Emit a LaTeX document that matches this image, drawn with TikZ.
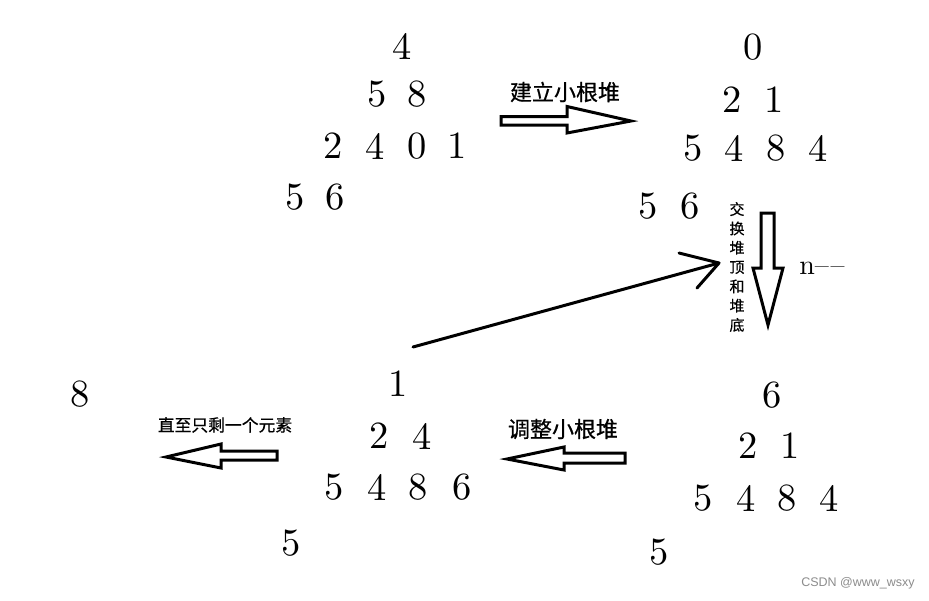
\documentclass[tikz,border=0pt]{standalone}
\usepackage{fontspec}
\newfontfamily\cjk{Noto Sans CJK SC}[FakeBold=0.6]
\newfontfamily\wmfont{Liberation Sans}
\begin{document}
\begin{tikzpicture}[x=1pt,y=-1pt,
  num/.style={inner sep=0pt,font=\fontsize{10}{10}\selectfont,scale=3.85},
  lbl/.style={inner sep=0pt,font=\cjk\fontsize{22}{22}\selectfont},
  hollow/.style={draw=black,line width=3pt,fill=white,line join=miter},
  thinarrow/.style={draw=black,line width=3pt,line cap=round,line join=round}]
\useasboundingbox[fill=white] (0,0) rectangle (929,600);
% tree 1
\node[num] (a1) at (402,46) {4};
\node[num] (a2) at (377,94) {5};
\node[num] (a3) at (417,94) {8};
\node[num] (a4) at (333,146) {2};
\node[num] (a5) at (375,146) {4};
\node[num] (a6) at (417,146) {0};
\node[num] (a7) at (457,146) {1};
\node[num] (a8) at (295,197) {5};
\node[num] (a9) at (335,197) {6};
% tree 2
\node[num] (b1) at (753,47) {0};
\node[num] (b2) at (732,100) {2};
\node[num] (b3) at (774,100) {1};
\node[num] (b4) at (693,148) {5};
\node[num] (b5) at (734,148) {4};
\node[num] (b6) at (776,148) {8};
\node[num] (b7) at (818,148) {4};
\node[num] (b8) at (648,206) {5};
\node[num] (b9) at (690,206) {6};
% tree 3
\node[num] (c1) at (398,384) {1};
\node[num] (c2) at (379,436) {2};
\node[num] (c3) at (422,436) {4};
\node[num] (c4) at (334,487) {5};
\node[num] (c5) at (377,487) {4};
\node[num] (c6) at (418,487) {8};
\node[num] (c7) at (462,487) {6};
\node[num] (c8) at (291,543) {5};
% tree 4
\node[num] (d1) at (772,395) {6};
\node[num] (d2) at (748,446) {2};
\node[num] (d3) at (790,446) {1};
\node[num] (d4) at (703,498) {5};
\node[num] (d5) at (746,498) {4};
\node[num] (d6) at (787,498) {8};
\node[num] (d7) at (829,498) {4};
\node[num] (d8) at (659,552) {5};
% result
\node[num] (e1) at (80,394) {8};
% labels
\node[lbl] (l1) at (565,92) {建立小根堆};
\node[lbl] (l2) at (563,429) {调整小根堆};
\node[lbl,font=\cjk\fontsize{16.8}{16.8}\selectfont] (l3) at (225,425) {直至只剩一个元素};
\node[lbl,font=\cjk\fontsize{15}{19.3}\selectfont,align=center] (l4) at (737,267) {交\\换\\堆\\顶\\和\\堆\\底};
\node[inner sep=0pt,font=\fontsize{10}{10}\selectfont,scale=2.8] (l5) at (822,268) {n\textendash\kern0.6pt\textendash};
\node[inner sep=0pt,font=\wmfont\fontsize{12.5}{12.5}\selectfont,text=black!45] (wm) at (858,583) {CSDN @www\_wsxy};
% hollow arrows
\draw[hollow] (501,116.5) -- (567,116.5) -- (567,106.5) -- (631,121) -- (567,133) -- (567,125) -- (501,125) -- cycle;
\draw[hollow] (761,213) -- (774,213) -- (774,268) -- (783,268) -- (768,325) -- (753,268) -- (761,268) -- cycle;
\draw[hollow] (625,453) -- (564,453) -- (564,447) -- (507,459) -- (564,470) -- (564,463) -- (625,463) -- cycle;
\draw[hollow] (277,451) -- (221,451) -- (221,444) -- (166,457) -- (221,468) -- (221,460) -- (277,460) -- cycle;
% slanted arrow
\coordinate (s0) at (413,347);
\coordinate (s1) at (719,263);
\draw[thinarrow] (s0) -- (s1);
\draw[thinarrow] (679,253) -- (s1) -- (697,288);
\end{tikzpicture}
\end{document}
